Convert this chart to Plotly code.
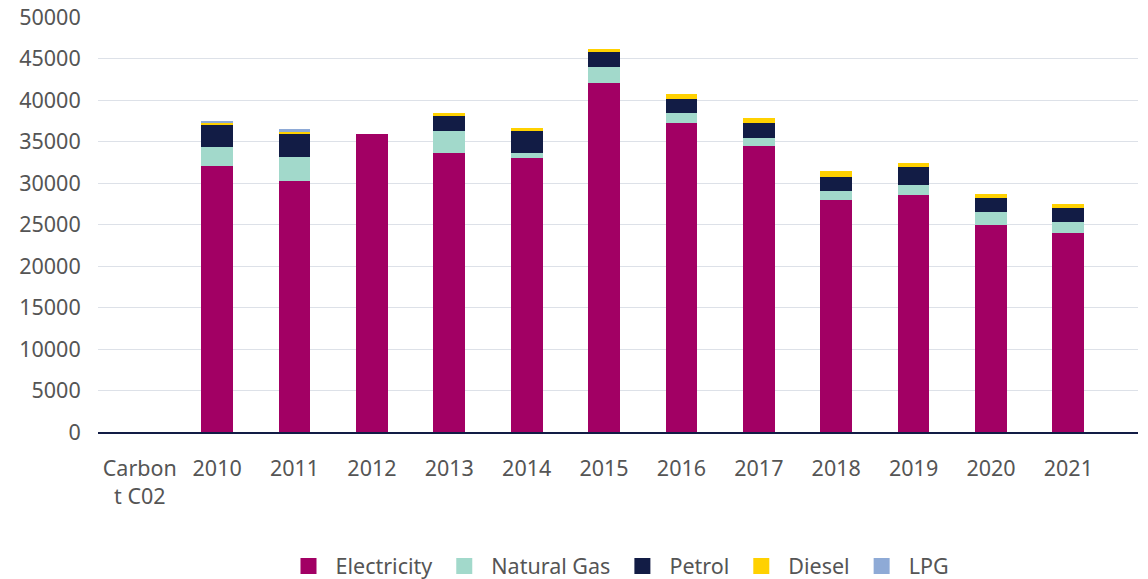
import plotly.graph_objects as go

categories = ["Carbon<br>t C02", "2010", "2011", "2012", "2013", "2014", "2015",
              "2016", "2017", "2018", "2019", "2020", "2021"]
electricity = [None, 32000, 30200, 35900, 33600, 33000, 42100, 37200, 34400, 28000, 28500, 25000, 24000]
natural_gas = [None, 2300, 2900, 0, 2650, 600, 1930, 1200, 1080, 1080, 1200, 1450, 1330]
petrol = [None, 2800, 2770, 0, 1800, 2770, 1800, 1690, 1800, 1690, 2170, 1690, 1690]
diesel = [None, 100, 360, 0, 360, 240, 360, 600, 600, 720, 600, 480, 480]
lpg = [None, 250, 240, 0, 0, 0, 0, 0, 0, 0, 0, 0, 0]

series = [
    ("Electricity", electricity, "#A20064"),
    ("Natural Gas", natural_gas, "#A2D9CB"),
    ("Petrol", petrol, "#121C45"),
    ("Diesel", diesel, "#FFD100"),
    ("LPG", lpg, "#8EAAD6"),
]

fig = go.Figure()
for name, vals, color in series:
    fig.add_trace(go.Bar(
        x=categories, y=vals, name=name, legendgroup=name, showlegend=False,
        marker=dict(color=color, line=dict(width=0)),
        width=0.41,
    ))
# legend entries with larger square swatches
for name, vals, color in series:
    fig.add_trace(go.Scatter(
        x=[None], y=[None], name=name, legendgroup=name, mode="markers",
        marker=dict(symbol="square", size=16, color=color, line=dict(width=0)),
        showlegend=True,
    ))

font_family = "Noto Sans"
fs = 21.5
fig.update_layout(
    barmode="stack",
    width=1148, height=600,
    margin=dict(l=98, r=10, t=17, b=168),
    paper_bgcolor="white", plot_bgcolor="white",
    font=dict(family=font_family, size=fs, color="#555555"),
    showlegend=True,
    legend=dict(orientation="h", x=0.5, xanchor="center", y=-0.323, yanchor="middle",
                font=dict(size=fs, color="#555555"), itemwidth=44,
                traceorder="normal"),
    xaxis=dict(type="category", range=[-0.54, 12.9], showgrid=False, automargin=False,
               showline=True, linecolor="#121C45", linewidth=2,
               ticks="outside", ticklen=16, tickcolor="rgba(0,0,0,0)",
               tickfont=dict(size=fs, color="#555555")),
    yaxis=dict(range=[0, 50000], dtick=5000, tickformat="d", showgrid=True,
               gridcolor="#DDE1E8", automargin=False,
               gridwidth=1, zeroline=False, showline=False,
               ticks="outside", ticklen=12, tickcolor="rgba(0,0,0,0)",
               tickfont=dict(size=fs, color="#555555")),
)

fig.write_html("out.html", config={"displayModeBar": False},
               post_script="document.body.style.margin='0';")
